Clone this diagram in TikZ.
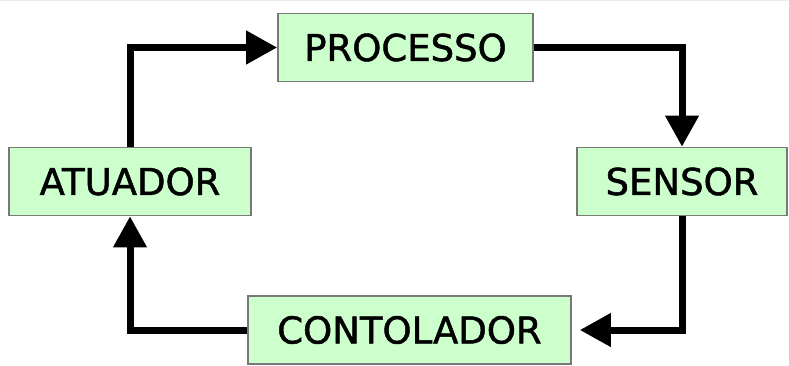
\documentclass[tikz,border=0pt]{standalone}
\usepackage{fontspec}
\usepackage{xcolor}
\usetikzlibrary{arrows.meta}
\setmainfont{DejaVu Sans}[FakeBold=1.3]

\definecolor{verdeclaro}{RGB}{204,255,204}
\definecolor{bordacinza}{RGB}{120,120,120}

\tikzset{
	bloco/.style = {draw=bordacinza, line width=1.6pt, fill=verdeclaro, minimum height=68pt, inner sep=0pt, font=\fontsize{37}{42}\selectfont},
	seta/.style = {line width=7pt, -{Triangle[length=31pt, width=32pt]}}
}

\begin{document}
\begin{tikzpicture}[x=1pt, y=-1pt]
		\useasboundingbox (0,0) rectangle (789,365);
		\draw[color=black!8, line width=1pt] (0,0.5) -- (789,0.5);

		% blocos da malha
		\node[bloco, minimum width=255pt] (processo) at (405.5, 47.5) {PROCESSO};
		\node[bloco, minimum width=210pt] (sensor) at (682, 181.5) {SENSOR};
		\node[bloco, minimum width=323pt] (controlador) at (409.5, 330) {CONTOLADOR};
		\node[bloco, minimum width=242pt] (atuador) at (130, 181.5) {ATUADOR};

		% ligacoes
		\draw[seta] (atuador.north) |- (processo.west);
		\draw[seta] (processo.east) -| (sensor.north);
		\draw[seta, shorten >=8pt] (sensor.south) |- (controlador.east);
		\draw[seta] (controlador.west) -| (atuador.south);
\end{tikzpicture}
\end{document}
